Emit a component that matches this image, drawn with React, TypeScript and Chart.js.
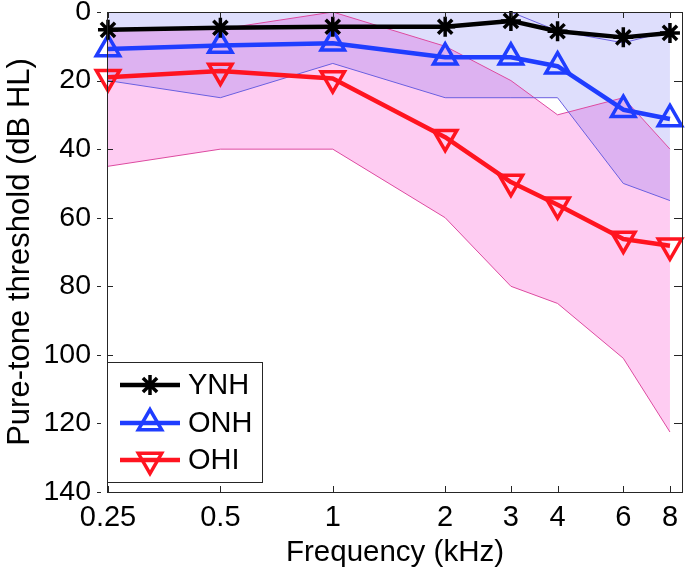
import React, { useEffect, useRef } from 'react';
import { Chart, registerables } from 'chart.js';

Chart.register(...registerables);

// ---- data ----
const frequencies = [0.25, 0.5, 1, 2, 3, 4, 6, 8];
const xTickLabels = ['0.25', '0.5', '1', '2', '3', '4', '6', '8'];
const yTickValues = [0, 20, 40, 60, 80, 100, 120, 140];

const ynhMean = [5.2, 4.6, 4.3, 4.3, 2.6, 5.6, 7.4, 6.1];
const onhMean = [10.8, 9.8, 9.1, 13.2, 13.2, 15.8, 28.5, 31.2];
const ohiMean = [19, 17.2, 19.4, 36.5, 49.6, 56.2, 66.2, 68.2];

const onhUpper = [0, 0, 0, 0, 0, 5.5, 9, 5.5];
const onhLower = [20, 25, 15, 25, 25, 25, 50, 55];
const ohiUpper = [5, 5, 0, 10, 20, 30, 25, 40];
const ohiLower = [45, 40, 40, 60, 80, 85, 101, 122.5];

const legendLabels = ['YNH', 'ONH', 'OHI'];

const FONT = '"Liberation Sans", Arial, Helvetica, sans-serif';
const BLACK = '#000000';
const BLUE = '#1f3dff';
const RED = '#ff1420';
const EDGE_BLUE = '#6a5fe0';
const EDGE_PINK = '#dd4aa0';

const pts = (arr: number[]) => frequencies.map((f, i) => ({ x: f, y: arr[i] }));

function drawMarker(ctx: CanvasRenderingContext2D, style: string, x: number, y: number, r: number, rotDeg: number) {
  ctx.beginPath();
  if (style === 'star') {
    for (let k = 0; k < 4; k++) {
      const a = (k * Math.PI) / 4;
      ctx.moveTo(x - Math.cos(a) * r, y - Math.sin(a) * r);
      ctx.lineTo(x + Math.cos(a) * r, y + Math.sin(a) * r);
    }
    ctx.stroke();
  } else {
    let rad = (rotDeg * Math.PI) / 180;
    ctx.moveTo(x + Math.sin(rad) * r, y - Math.cos(rad) * r);
    rad += (2 * Math.PI) / 3;
    ctx.lineTo(x + Math.sin(rad) * r, y - Math.cos(rad) * r);
    rad += (2 * Math.PI) / 3;
    ctx.lineTo(x + Math.sin(rad) * r, y - Math.cos(rad) * r);
    ctx.closePath();
    ctx.stroke();
  }
}

const framePlugin = {
  id: 'frame',
  afterDraw(chart: any) {
    const { ctx, chartArea: a, scales } = chart;
    const xs = scales.x;
    const ys = scales.y;
    ctx.save();
    ctx.strokeStyle = '#262626';
    ctx.lineWidth = 1;
    // box
    ctx.strokeRect(a.left + 0.5, a.top + 0.5, a.right - a.left - 1, a.bottom - a.top);
    ctx.beginPath();
    frequencies.forEach((f) => {
      const px = Math.round(xs.getPixelForValue(f)) + 0.5;
      ctx.moveTo(px, a.bottom);
      ctx.lineTo(px, a.bottom - 6);
      ctx.moveTo(px, a.top);
      ctx.lineTo(px, a.top + 6);
    });
    yTickValues.forEach((v) => {
      const py = Math.round(ys.getPixelForValue(v)) + 0.5;
      ctx.moveTo(a.left, py);
      ctx.lineTo(a.left + 6, py);
      ctx.moveTo(a.right, py);
      ctx.lineTo(a.right - 9, py);
      ctx.moveTo(a.left - 10, py);
      ctx.lineTo(a.left - 6, py);
    });
    ctx.stroke();

    // legend
    const bx = a.left + 0.5;
    const by = 362.5;
    const bw = 155;
    const bh = 120;
    ctx.fillStyle = '#ffffff';
    ctx.fillRect(bx, by, bw, bh);
    ctx.strokeStyle = '#262626';
    ctx.lineWidth = 1;
    ctx.strokeRect(bx, by, bw, bh);
    const rows = [385, 423, 460];
    const styles = [
      { color: BLACK, marker: 'star', r: 10, rot: 0 },
      { color: BLUE, marker: 'triangle', r: 13.5, rot: 0 },
      { color: RED, marker: 'triangle', r: 13.5, rot: 180 },
    ];
    ctx.font = `29px ${FONT}`;
    ctx.textBaseline = 'middle';
    ctx.textAlign = 'left';
    legendLabels.forEach((label, i) => {
      const s = styles[i];
      const yy = rows[i];
      ctx.strokeStyle = s.color;
      ctx.lineWidth = 4.5;
      ctx.beginPath();
      ctx.moveTo(120, yy);
      ctx.lineTo(180, yy);
      ctx.stroke();
      ctx.lineWidth = 3.5;
      drawMarker(ctx, s.marker, 150, yy, s.r, s.rot);
      ctx.fillStyle = '#000';
      ctx.fillText(label, 188, yy + 1);
    });
    ctx.restore();
  },
};

export default function App() {
  const ref = useRef<HTMLCanvasElement | null>(null);
  useEffect(() => {
    if (!ref.current) return;
    const thin = { pointRadius: 0, borderWidth: 1, tension: 0 };
    const chart = new Chart(ref.current, {
      type: 'line',
      data: {
        datasets: [
          {
            label: 'YNH',
            data: pts(ynhMean),
            borderColor: BLACK,
            borderWidth: 4.5,
            pointStyle: 'star',
            pointRadius: 10,
            pointBorderWidth: 3.5,
            pointBorderColor: BLACK,
            pointBackgroundColor: BLACK,
            fill: false,
            clip: false as any,
            borderJoinStyle: 'round',
          },
          {
            label: 'ONH',
            data: pts(onhMean),
            borderColor: BLUE,
            borderWidth: 4.5,
            pointStyle: 'triangle',
            pointRadius: 13.5,
            pointBorderWidth: 3.5,
            pointBorderColor: BLUE,
            pointBackgroundColor: 'rgba(0,0,0,0)',
            fill: false,
            clip: false as any,
            borderJoinStyle: 'round',
          },
          {
            label: 'OHI',
            data: pts(ohiMean),
            borderColor: RED,
            borderWidth: 4.5,
            pointStyle: 'triangle',
            pointRotation: 180,
            pointRadius: 13.5,
            pointBorderWidth: 3.5,
            pointBorderColor: RED,
            pointBackgroundColor: 'rgba(0,0,0,0)',
            fill: false,
            clip: false as any,
            borderJoinStyle: 'round',
          },
          { label: 'onhUpper', data: pts(onhUpper), borderColor: EDGE_BLUE, fill: false, ...thin },
          {
            label: 'onhLower',
            data: pts(onhLower),
            borderColor: EDGE_BLUE,
            backgroundColor: 'rgba(0,0,235,0.13)',
            fill: { value: 0 } as any,
            ...thin,
          },
          { label: 'ohiUpper', data: pts(ohiUpper), borderColor: EDGE_PINK, fill: false, ...thin },
          {
            label: 'ohiLower',
            data: pts(ohiLower),
            borderColor: EDGE_PINK,
            backgroundColor: 'rgba(250,0,190,0.2)',
            fill: '-1',
            ...thin,
          },
        ],
      },
      options: {
        responsive: false,
        devicePixelRatio: 1,
        animation: false,
        events: [],
        layout: { autoPadding: false, padding: { left: 0, right: 5, top: 12, bottom: 0 } },
        plugins: {
          legend: { display: false },
          tooltip: { enabled: false },
          filler: { drawTime: 'beforeDatasetsDraw' } as any,
        },
        scales: {
          x: {
            type: 'logarithmic',
            min: 0.2485,
            max: 8.67,
            grid: { display: false, drawTicks: false },
            border: { display: false },
            afterBuildTicks: (scale: any) => {
              scale.ticks = frequencies.map((v) => ({ value: v }));
            },
            afterFit: (scale: any) => {
              scale.height = 85;
              scale.paddingLeft = 0;
              scale.paddingRight = 0;
            },
            ticks: {
              autoSkip: false,
              maxRotation: 0,
              padding: 9,
              color: '#000',
              font: { family: FONT, size: 29 },
              callback: (v: any) => {
                const i = frequencies.indexOf(Number(v));
                return i >= 0 ? xTickLabels[i] : '';
              },
            },
            title: {
              display: true,
              text: 'Frequency (kHz)',
              color: '#000',
              font: { family: FONT, size: 29.5 },
              padding: { top: 0, bottom: 6 },
            },
          },
          y: {
            type: 'linear',
            reverse: true,
            min: 0,
            max: 140,
            grid: { display: false, drawTicks: false },
            border: { display: false },
            afterBuildTicks: (scale: any) => {
              scale.ticks = yTickValues.map((v) => ({ value: v }));
            },
            afterFit: (scale: any) => {
              scale.width = 107;
              scale.paddingTop = 0;
              scale.paddingBottom = 0;
            },
            ticks: {
              padding: 16,
              color: '#000',
              font: { family: FONT, size: 28.5 },
              callback: (v: any) => String(v),
            },
            title: {
              display: true,
              text: 'Pure-tone threshold (dB HL)',
              color: '#000',
              font: { family: FONT, size: 31 },
              padding: { top: 2, bottom: 0 },
            },
          },
        },
      },
      plugins: [framePlugin],
    });
    return () => chart.destroy();
  }, []);
  return (
    <div style={{ position: 'absolute', left: 0, top: 0, width: 688, height: 577, background: '#fff' }}>
      <canvas ref={ref} width={688} height={577} style={{ display: 'block' }} />
    </div>
  );
}
